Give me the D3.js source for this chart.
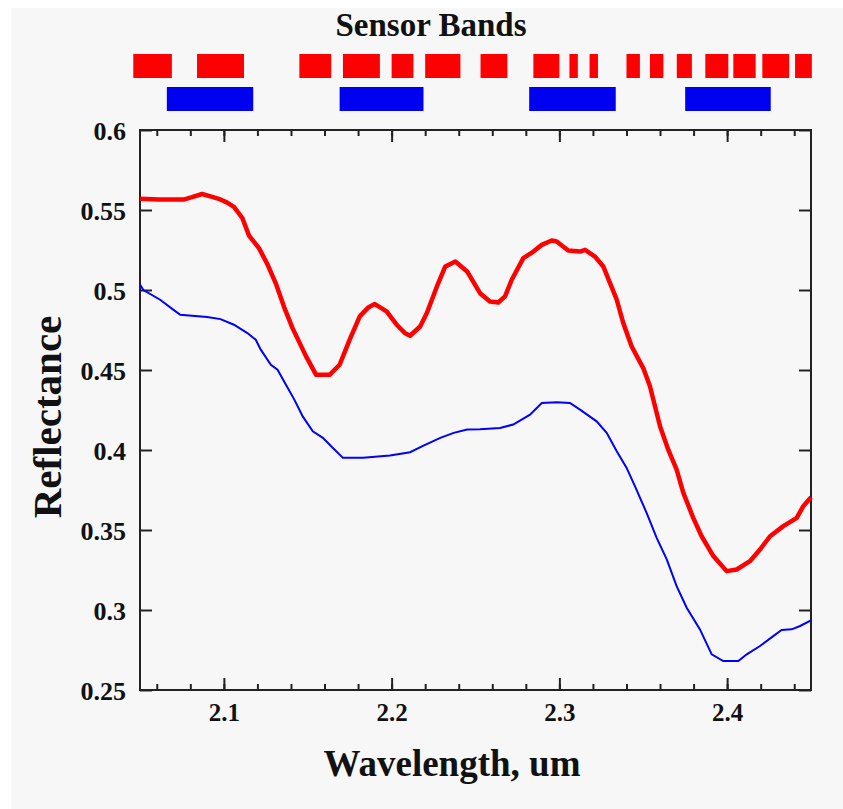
<!DOCTYPE html>
<html>
<head>
<meta charset="utf-8">
<script src="https://cdn.jsdelivr.net/npm/d3@7"></script>
<style>
  body { margin: 0; background: #fff; }
  svg { display: block; }
  text { font-family: "Liberation Serif", "Times New Roman", serif; font-weight: bold; fill: #111; }
</style>
</head>
<body>
<svg id="mainSVG" width="843" height="809"></svg>
<script>
// sensor bands, in um
const redBands = [
    [2.046, 2.069], [2.084, 2.112], [2.145, 2.164], [2.171, 2.193], [2.200, 2.213],
    [2.220, 2.241], [2.253, 2.269], [2.2845, 2.300], [2.306, 2.311], [2.318, 2.323],
    [2.340, 2.348], [2.354, 2.362], [2.370, 2.379], [2.387, 2.4007], [2.4037, 2.417],
    [2.421, 2.437], [2.4405, 2.4505]
]
const blueBands = [[2.066, 2.1175], [2.169, 2.219], [2.282, 2.3336], [2.375, 2.426]]

// spectra
const redWl = [2.050, 2.061, 2.076, 2.081, 2.087, 2.092, 2.097, 2.102, 2.106, 2.111, 2.115, 2.121,
    2.126, 2.131, 2.136, 2.141, 2.149, 2.155, 2.163, 2.169, 2.175, 2.181, 2.186, 2.190, 2.197,
    2.203, 2.208, 2.211, 2.217, 2.221, 2.227, 2.232, 2.238, 2.245, 2.2527, 2.2586, 2.2636,
    2.2676, 2.2716, 2.2785, 2.2845, 2.2895, 2.2954, 2.2984, 2.3053, 2.3123, 2.3153, 2.3212,
    2.3262, 2.3302, 2.3342, 2.3381, 2.3431, 2.3500, 2.3540, 2.3600, 2.3649, 2.3699, 2.3739,
    2.3798, 2.3848, 2.3918, 2.3997, 2.4057, 2.4136, 2.4196, 2.4256, 2.4335, 2.4415, 2.4454, 2.4500]
const redVal = [0.557, 0.5565, 0.5565, 0.558, 0.560, 0.5585, 0.557, 0.5546, 0.552, 0.545, 0.534, 0.526,
    0.516, 0.504, 0.489, 0.476, 0.4585, 0.447, 0.447, 0.4533, 0.469, 0.4835, 0.489, 0.4912, 0.4866,
    0.4783, 0.473, 0.4714, 0.4772, 0.4856, 0.5022, 0.5147, 0.5178, 0.5116, 0.498, 0.4928, 0.4922,
    0.496, 0.5064, 0.5199, 0.524, 0.5282, 0.5309, 0.5303, 0.5247, 0.524, 0.5251, 0.5209,
    0.5147, 0.5043, 0.4939, 0.4793, 0.4647, 0.4512, 0.4398, 0.4148, 0.4002, 0.3878, 0.3732,
    0.3576, 0.3461, 0.3337, 0.3243, 0.3253, 0.3305, 0.3378, 0.3461, 0.3524, 0.3576, 0.3649, 0.3705]

const blueWl = [2.050, 2.052, 2.062, 2.070, 2.074, 2.090, 2.098, 2.106, 2.114, 2.119, 2.122, 2.128,
    2.132, 2.137, 2.142, 2.147, 2.153, 2.159, 2.165, 2.171, 2.183, 2.199, 2.211, 2.219, 2.229,
    2.237, 2.245, 2.2527, 2.2646, 2.2725, 2.2825, 2.2895, 2.2984, 2.3063, 2.3123, 2.3222,
    2.3282, 2.3342, 2.3401, 2.3451, 2.3520, 2.3580, 2.3640, 2.3699, 2.3759, 2.3838, 2.3908,
    2.3977, 2.4067, 2.4117, 2.4196, 2.4275, 2.4325, 2.4385, 2.4435, 2.4500]
const blueVal = [0.5035, 0.500, 0.4939, 0.4876, 0.4845, 0.4831, 0.4818, 0.4783, 0.4731, 0.4689, 0.4627, 0.4533,
    0.4502, 0.4408, 0.4315, 0.421, 0.4117, 0.4076, 0.4013, 0.3951, 0.3951, 0.3965, 0.3986, 0.4027, 0.4076,
    0.4107, 0.4128, 0.4130, 0.4138, 0.4159, 0.4221, 0.4294, 0.4298, 0.4294, 0.4252, 0.4179,
    0.4107, 0.3992, 0.3888, 0.3773, 0.3607, 0.3451, 0.3316, 0.3149, 0.3014, 0.2879, 0.2723,
    0.2681, 0.2681, 0.2723, 0.2775, 0.2837, 0.2875, 0.2879, 0.2900, 0.2935]

const xTicks = [2.1, 2.2, 2.3, 2.4]
const yTicks = [0.25, 0.3, 0.35, 0.4, 0.45, 0.5, 0.55, 0.6]

const svg = d3.select("#mainSVG")
const W = +svg.attr("width"), H = +svg.attr("height")
const plot = {left: 140, right: 811, top: 130, bottom: 690}

svg.append("rect")
    .attr("x", 11).attr("y", 8)
    .attr("width", W - 11).attr("height", H - 8)
    .attr("fill", "#f7f7f7")

const x = d3.scaleLinear().domain([2.05, 2.45]).range([plot.left, plot.right])
const y = d3.scaleLinear().domain([0.25, 0.6]).range([plot.bottom, plot.top])

// title + bands
svg.append("text")
    .attr("x", 431).attr("y", 36)
    .attr("text-anchor", "middle")
    .style("font-size", "33px")
    .text("Sensor Bands")

svg.append("g").selectAll("rect")
    .data(redBands).join("rect")
    .attr("x", d => x(d[0]))
    .attr("width", d => x(d[1]) - x(d[0]))
    .attr("y", 54).attr("height", 24)
    .attr("fill", "#ff0000")

svg.append("g").selectAll("rect")
    .data(blueBands).join("rect")
    .attr("x", d => x(d[0]))
    .attr("width", d => x(d[1]) - x(d[0]))
    .attr("y", 87).attr("height", 24)
    .attr("fill", "#0000f0")

// axes, ticks pointing in
const minor = x.ticks(20)
function styleAxis(g) {
    g.select(".domain").remove()
    g.selectAll(".tick line").attr("stroke", "#222").attr("stroke-width", 2)
    g.selectAll(".tick text").attr("fill", "#111").attr("font-family", null)
}

svg.append("g").attr("transform", `translate(0,${plot.bottom})`)
    .call(d3.axisBottom(x).tickValues(minor).tickSize(-6).tickFormat(""))
    .call(styleAxis)
svg.append("g").attr("transform", `translate(0,${plot.top})`)
    .call(d3.axisTop(x).tickValues(minor).tickSize(-6).tickFormat(""))
    .call(styleAxis)
svg.append("g").attr("transform", `translate(0,${plot.bottom})`)
    .call(d3.axisBottom(x).tickValues(xTicks).tickSize(-12).tickPadding(13).tickFormat(d3.format(".1f")))
    .call(styleAxis)
    .selectAll("text").style("font-size", "25px")
svg.append("g").attr("transform", `translate(0,${plot.top})`)
    .call(d3.axisTop(x).tickValues(xTicks).tickSize(-12).tickFormat(""))
    .call(styleAxis)

svg.append("g").attr("transform", `translate(${plot.left},0)`)
    .call(d3.axisLeft(y).tickValues(yTicks).tickSize(-12).tickPadding(14).tickFormat(d => d3.format("")(+d.toFixed(2))))
    .call(styleAxis)
    .selectAll("text").style("font-size", "26px").attr("dy", "0.36em")
svg.append("g").attr("transform", `translate(${plot.right},0)`)
    .call(d3.axisRight(y).tickValues(yTicks).tickSize(-12).tickFormat(""))
    .call(styleAxis)

svg.append("rect")
    .attr("x", plot.left).attr("y", plot.top)
    .attr("width", plot.right - plot.left).attr("height", plot.bottom - plot.top)
    .attr("fill", "none").attr("stroke", "#222").attr("stroke-width", 2)

// spectra
const line = d3.line().x(d => x(d[0])).y(d => y(d[1]))

svg.append("path")
    .datum(d3.zip(blueWl, blueVal))
    .attr("d", line)
    .attr("fill", "none").attr("stroke", "#0000ff").attr("stroke-width", 2)

svg.append("path")
    .datum(d3.zip(redWl, redVal))
    .attr("d", line)
    .attr("fill", "none").attr("stroke", "#ff0000").attr("stroke-width", 4.5)
    .attr("stroke-linejoin", "round")

// axis titles
svg.append("text")
    .attr("x", 452).attr("y", 776)
    .attr("text-anchor", "middle")
    .style("font-size", "37px")
    .text("Wavelength, um")

svg.append("text")
    .attr("transform", "translate(61,417) rotate(-90)")
    .attr("text-anchor", "middle")
    .style("font-size", "41px")
    .text("Reflectance")
</script>
</body>
</html>
